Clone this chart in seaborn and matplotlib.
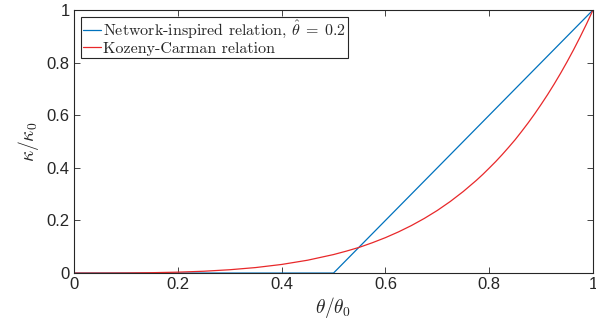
import matplotlib
matplotlib.use("Agg")
import matplotlib.pyplot as plt
import seaborn as sns
import pandas as pd

sns.set_style("ticks")
plt.rcParams["font.family"] = ["Liberation Sans", "DejaVu Sans"]
plt.rcParams["mathtext.fontset"] = "cm"
plt.rcParams["axes.unicode_minus"] = False

# Network-inspired relation (piecewise linear)
net_x = [0.0, 0.5, 1.0]
net_y = [0.0, 0.0, 1.0]

# Kozeny-Carman relation
kc_x = [0.0, 0.05, 0.1, 0.15, 0.2, 0.25, 0.3, 0.35, 0.4, 0.45, 0.5, 0.525, 0.55,
        0.575, 0.6, 0.625, 0.65, 0.675, 0.7, 0.725, 0.75, 0.775, 0.7875, 0.8,
        0.8125, 0.825, 0.8375, 0.85, 0.8625, 0.875, 0.8875, 0.9, 0.9125, 0.925,
        0.9375, 0.95, 0.9625, 0.975, 0.9875, 1.0]
kc_y = [0.0, 0.00005, 0.0004, 0.0014, 0.0034, 0.0069, 0.0126, 0.0209, 0.0327,
        0.0488, 0.0703, 0.0835, 0.098, 0.1154, 0.1346, 0.1563, 0.1805, 0.2077,
        0.238, 0.2721, 0.31, 0.352, 0.3747, 0.399, 0.4238, 0.4503, 0.4782,
        0.507, 0.5384, 0.5708, 0.6049, 0.641, 0.6784, 0.7179, 0.7594, 0.803,
        0.8487, 0.8968, 0.947, 1.0]

x_ticks = [0, 0.2, 0.4, 0.6, 0.8, 1]
x_labels = ["0", "0.2", "0.4", "0.6", "0.8", "1"]
y_ticks = [0, 0.2, 0.4, 0.6, 0.8, 1]
y_labels = ["0", "0.2", "0.4", "0.6", "0.8", "1"]

net_label = r"Network-inspired relation, $\hat{\theta}\;=\;0.2$"
kc_label = "Kozeny-Carman relation"

df_net = pd.DataFrame({"x": net_x, "y": net_y})
df_kc = pd.DataFrame({"x": kc_x, "y": kc_y})

fig = plt.figure(figsize=(5.96, 3.22), dpi=100)
ax = fig.add_axes([0.1242, 0.152, 0.8708, 0.817])

sns.lineplot(data=df_net, x="x", y="y", ax=ax, color="#0072BD", lw=0.9,
             label=net_label, estimator=None, sort=False)
sns.lineplot(data=df_kc, x="x", y="y", ax=ax, color="#E8282A", lw=0.9,
             label=kc_label, estimator=None, sort=False)

ax.set_xlim(0, 1)
ax.set_ylim(0, 1)
ax.set_xticks(x_ticks)
ax.set_xticklabels(x_labels)
ax.set_yticks(y_ticks)
ax.set_yticklabels(y_labels)
ax.tick_params(direction="in", top=True, right=True, length=4, width=0.6,
               labelsize=12, colors="#262626", pad=3)
for sp in ax.spines.values():
    sp.set_linewidth(0.8)
    sp.set_color("#262626")
    sp.set_visible(True)

ax.set_xlabel(r"$\theta/\theta_0$", fontsize=14, labelpad=2)
ax.set_ylabel(r"$\kappa/\kappa_0$", fontsize=14, labelpad=4)

leg = ax.legend(loc="upper left", bbox_to_anchor=(0.0135, 0.975), frameon=True,
                fancybox=False, edgecolor="#262626", framealpha=1,
                handlelength=1.1, handletextpad=0.1, borderpad=0.15,
                labelspacing=0.08, borderaxespad=0.0,
                prop={"family": "cmr10", "size": 11.5})
leg.get_frame().set_linewidth(0.8)

fig.savefig("out.png", dpi=100)
